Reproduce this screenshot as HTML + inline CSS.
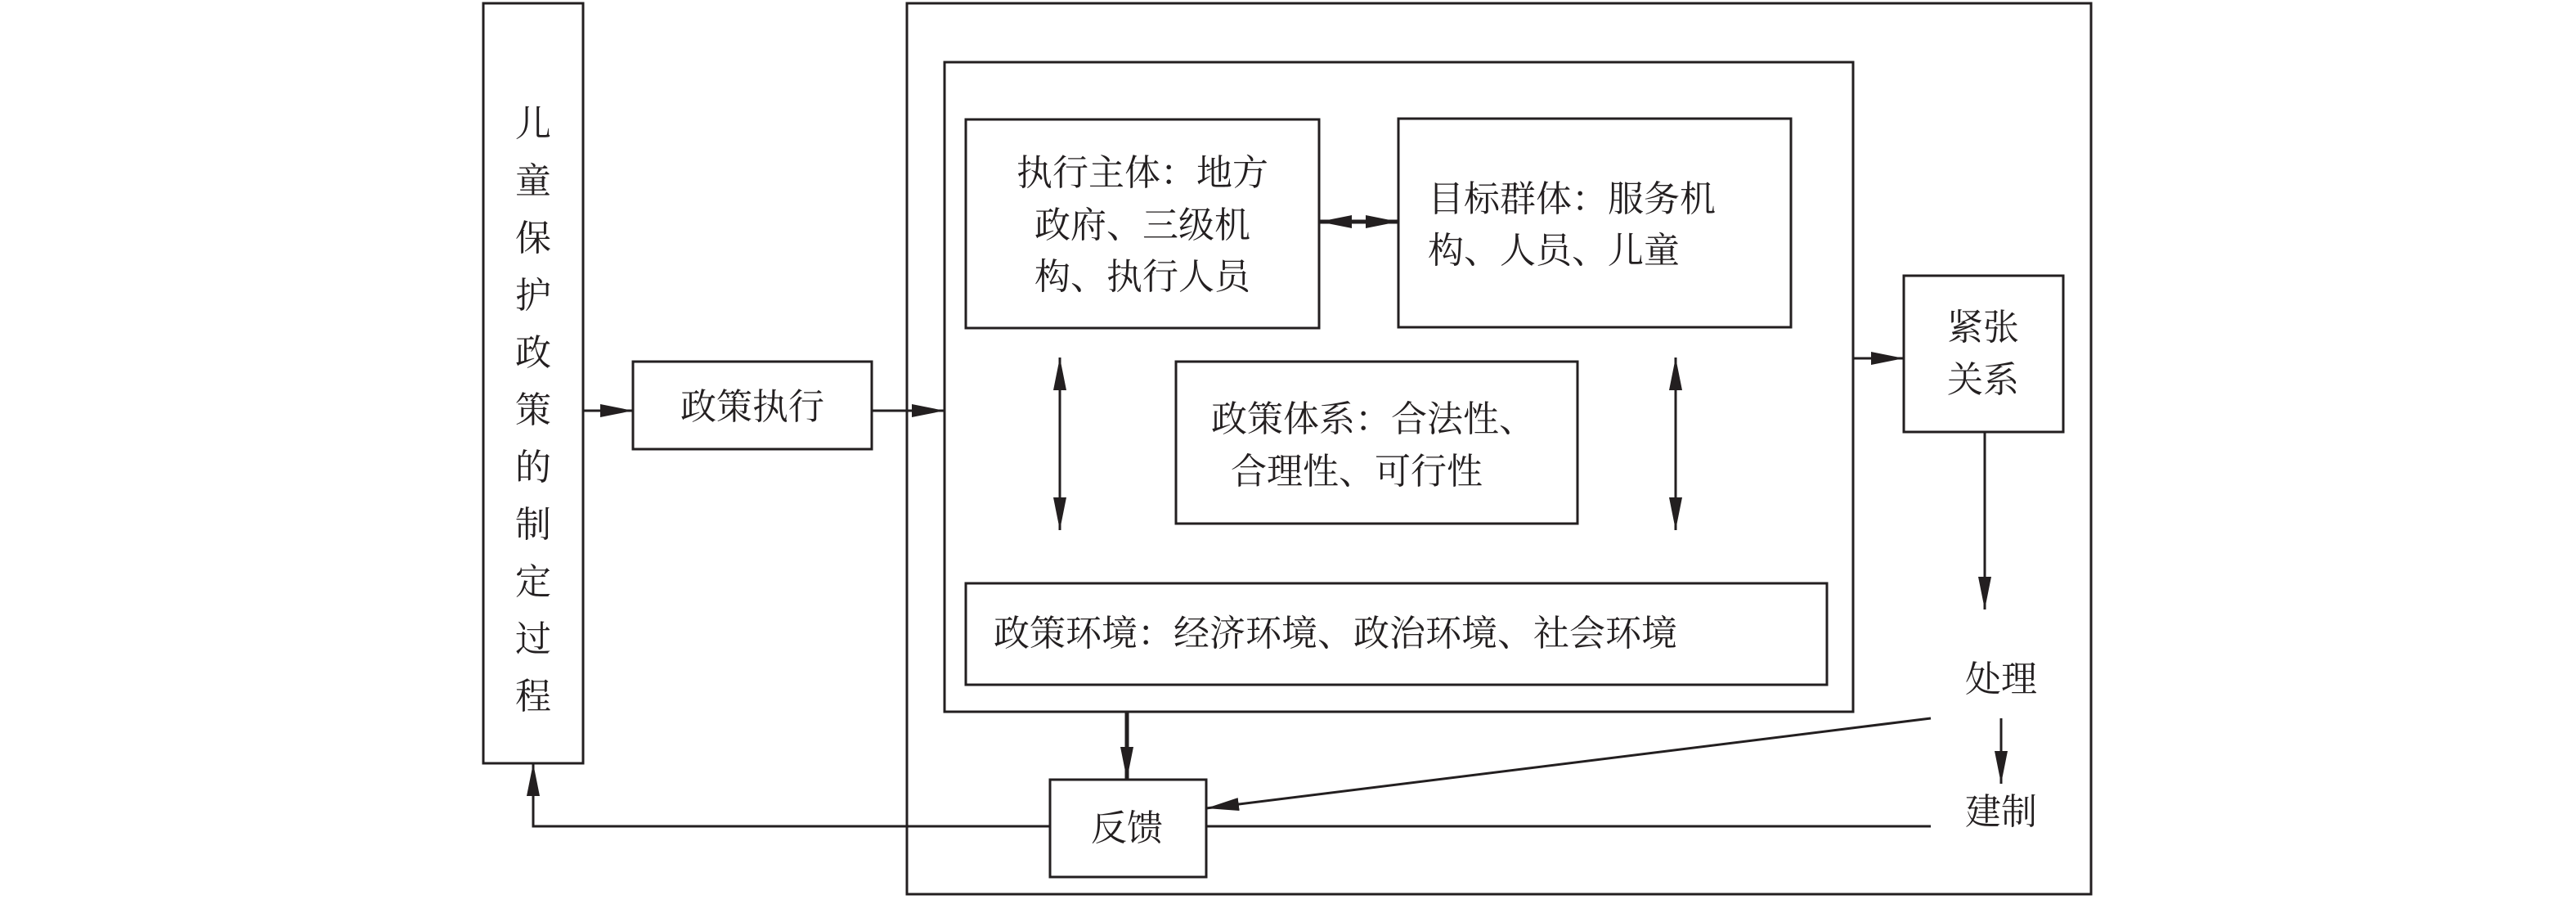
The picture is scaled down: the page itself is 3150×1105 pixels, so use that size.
<!DOCTYPE html>
<html><head><meta charset="utf-8"><style>
html,body{margin:0;padding:0;background:#fff}
svg text{font-family:"Liberation Serif","Noto Serif CJK SC",serif;font-size:44px;fill:#231f20}
</style></head><body>
<svg width="3150" height="1100" viewBox="0 0 3150 1100" xmlns="http://www.w3.org/2000/svg">
<defs>
<marker id="a" markerWidth="12" markerHeight="8" refX="12" refY="4" orient="auto" markerUnits="userSpaceOnUse" viewBox="0 0 12 8"><path d="M0,0 L12,4 L0,8 Z" fill="#231f20"/></marker>
<marker id="b" viewBox="0 0 40 16" refX="40" refY="8" markerWidth="40" markerHeight="16" orient="auto-start-reverse" markerUnits="userSpaceOnUse"><path d="M0,0 L40,8 L0,16 Z" fill="#231f20"/></marker>
</defs>
<g fill="none" stroke="#231f20" stroke-width="3">
<rect x="591" y="4" width="122" height="929"/>
<rect x="1109" y="4" width="1448" height="1089"/>
<rect x="1155" y="76" width="1111" height="794"/>
<rect x="1181" y="146" width="432" height="255"/>
<rect x="1710" y="145" width="480" height="255"/>
<rect x="1438" y="442" width="491" height="198"/>
<rect x="1181" y="713" width="1053" height="124"/>
<rect x="774" y="442" width="292" height="107"/>
<rect x="2328" y="337" width="195" height="191"/>
<rect x="1284" y="953" width="191" height="119"/>
<!-- arrows -->
<line x1="713" y1="502" x2="774" y2="502" marker-end="url(#b)"/>
<line x1="1066" y1="502" x2="1155" y2="502" marker-end="url(#b)"/>
<line x1="1613" y1="271" x2="1710" y2="271" marker-start="url(#b)" marker-end="url(#b)" stroke-width="5"/>
<line x1="1296" y1="437" x2="1296" y2="648" marker-start="url(#b)" marker-end="url(#b)"/>
<line x1="2049" y1="437" x2="2049" y2="648" marker-start="url(#b)" marker-end="url(#b)"/>
<line x1="2266" y1="438" x2="2328" y2="438" marker-end="url(#b)"/>
<line x1="2427" y1="528" x2="2427" y2="745" marker-end="url(#b)"/>
<line x1="2447" y1="878" x2="2447" y2="958" marker-end="url(#b)"/>
<line x1="1378" y1="870" x2="1378" y2="953" marker-end="url(#b)" stroke-width="5"/>
<line x1="2361" y1="878" x2="1475" y2="988" marker-end="url(#b)"/>
<line x1="2361" y1="1010" x2="1475" y2="1010"/>
<polyline points="1284,1010 652,1010 652,933" marker-end="url(#b)"/>
</g>
<g>
<text x="652" y="166" text-anchor="middle">儿</text>
<text x="652" y="236" text-anchor="middle">童</text>
<text x="652" y="306" text-anchor="middle">保</text>
<text x="652" y="376" text-anchor="middle">护</text>
<text x="652" y="446" text-anchor="middle">政</text>
<text x="652" y="516" text-anchor="middle">策</text>
<text x="652" y="586" text-anchor="middle">的</text>
<text x="652" y="656" text-anchor="middle">制</text>
<text x="652" y="726" text-anchor="middle">定</text>
<text x="652" y="796" text-anchor="middle">过</text>
<text x="652" y="866" text-anchor="middle">程</text>
</g>
<text x="920" y="512" text-anchor="middle">政策执行</text>
<text x="1397" y="226" text-anchor="middle">执行主体：地方</text>
<text x="1397" y="290" text-anchor="middle">政府、三级机</text>
<text x="1397" y="353" text-anchor="middle">构、执行人员</text>
<text x="1746" y="258">目标群体：服务机</text>
<text x="1746" y="321">构、人员、儿童</text>
<text x="1481" y="527">政策体系：合法性、</text>
<text x="1505" y="591">合理性、可行性</text>
<text x="1215" y="789">政策环境：经济环境、政治环境、社会环境</text>
<text x="2425" y="415" text-anchor="middle">紧张</text>
<text x="2425" y="479" text-anchor="middle">关系</text>
<text x="2447" y="845" text-anchor="middle">处理</text>
<text x="2447" y="1007" text-anchor="middle">建制</text>
<text x="1378" y="1027" text-anchor="middle">反馈</text>
</svg>
</body></html>
